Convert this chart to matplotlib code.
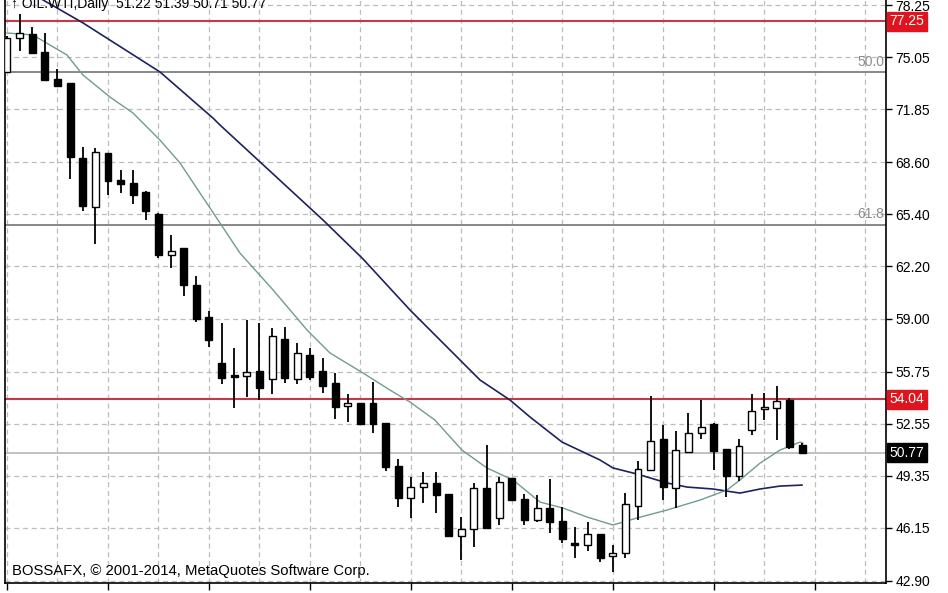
import matplotlib
matplotlib.use("Agg")
import matplotlib.pyplot as plt
import matplotlib.transforms as mtransforms
import numpy as np

plt.rcParams["font.family"] = ["Liberation Sans", "DejaVu Sans"]

# daily candles, oldest first
opens = [74.14, 76.22, 76.47, 75.37, 73.71, 73.46, 68.86, 65.85, 69.16, 67.51,
         67.32, 66.77, 65.42, 62.90, 63.33, 61.06, 59.10, 56.27, 55.54, 55.47,
         55.78, 55.29, 57.75, 55.29, 56.76, 55.78, 55.05, 53.63, 53.82, 53.82,
         52.59, 49.95, 47.99, 48.66, 48.91, 48.23, 45.65, 46.08, 48.60, 46.76,
         49.21, 47.92, 46.63, 47.37, 46.57, 45.22, 45.10, 45.77, 44.42, 44.61,
         47.49, 49.70, 51.61, 48.60, 50.81, 51.98, 52.53, 50.99, 49.34, 52.16,
         53.45, 53.51, 54.00, 51.22]
highs = [76.35, 77.70, 76.90, 76.53, 74.32, 73.46, 69.53, 69.47, 69.16, 68.12,
         68.12, 66.83, 65.48, 64.13, 63.33, 61.61, 59.47, 58.73, 57.19, 58.91,
         58.73, 58.42, 58.48, 57.50, 57.19, 56.58, 55.66, 54.37, 53.82, 55.11,
         52.59, 50.38, 49.27, 49.58, 49.58, 48.23, 46.82, 48.91, 51.24, 49.27,
         49.21, 48.23, 48.17, 49.15, 47.43, 46.20, 46.51, 45.77, 45.10, 48.29,
         50.26, 54.25, 52.47, 52.10, 53.20, 54.00, 52.59, 50.99, 51.61, 54.37,
         54.43, 54.86, 54.12, 51.39]
lows = [74.14, 75.43, 75.30, 73.58, 73.28, 67.57, 65.60, 63.58, 66.59, 66.71,
        66.03, 65.05, 62.72, 62.10, 60.39, 58.79, 57.25, 54.98, 53.51, 54.19,
        54.00, 54.37, 55.05, 54.98, 55.23, 54.43, 52.83, 52.65, 52.53, 51.98,
        49.64, 47.43, 46.76, 47.68, 47.06, 45.65, 44.18, 44.98, 46.08, 46.33,
        47.80, 46.33, 46.51, 45.84, 45.22, 44.30, 44.73, 44.06, 43.44, 44.30,
        46.63, 49.64, 47.86, 47.37, 50.75, 51.61, 49.70, 48.05, 49.03, 51.85,
        52.77, 51.55, 50.99, 50.71]
closes = [76.22, 76.53, 75.30, 73.65, 73.28, 68.92, 65.91, 69.23, 67.45, 67.26,
          66.59, 65.60, 62.90, 63.15, 61.06, 58.97, 57.68, 55.35, 55.41, 55.72,
          54.74, 57.93, 55.35, 56.89, 55.41, 54.86, 53.57, 53.82, 52.53, 52.53,
          49.89, 47.99, 48.66, 48.91, 48.17, 45.65, 46.08, 48.60, 46.14, 48.97,
          47.86, 46.63, 47.37, 46.51, 45.47, 45.10, 45.77, 44.30, 44.61, 47.62,
          49.77, 51.48, 48.66, 50.93, 51.98, 52.34, 50.87, 49.34, 51.18, 53.33,
          53.57, 53.94, 51.12, 50.77]

# slow moving average (dark blue), sampled along the curve
slow_x = [0.0, 2.85, 6.02, 12.12, 16.32, 16.88, 25.04, 28.21, 31.93, 37.48,
          39.86, 41.44, 43.98, 46.99, 48.02, 49.92, 52.30, 53.88, 55.94, 58.08,
          59.67, 61.25, 62.99]
slow_ma = [79.85, 78.56, 77.15, 74.14, 71.31, 70.88, 65.05, 62.66, 59.53, 55.23,
           54.00, 52.96, 51.42, 50.32, 49.83, 49.46, 48.91, 48.66, 48.54, 48.29,
           48.54, 48.72, 48.78]

# fast moving average (grey-green)
fast_x = [0.0, 2.06, 3.41, 4.75, 6.02, 8.16, 9.98, 12.12, 13.71, 15.29,
          16.72, 18.46, 21.08, 23.77, 25.59, 28.21, 30.35, 31.93, 33.91, 36.05,
          38.03, 40.10, 42.23, 44.06, 45.96, 48.02, 49.92, 52.30, 54.91, 57.05,
          58.08, 59.67, 61.25, 62.84, 63.07]
fast_ma = [76.53, 76.41, 75.79, 75.18, 73.95, 72.60, 71.62, 69.96, 68.55, 66.71,
           65.05, 63.02, 60.76, 58.30, 56.89, 55.66, 54.61, 53.88, 52.77, 50.93,
           49.83, 49.09, 47.74, 47.37, 46.82, 46.33, 46.76, 47.25, 47.86, 48.48,
           49.09, 50.13, 50.93, 51.42, 51.36]

price_ticks = [78.25, 75.05, 71.85, 68.60, 65.40, 62.20, 59.00, 55.75,
               52.55, 49.35, 46.15, 42.90]
red_levels = [77.25, 54.04]
fib_levels = [74.12, 64.76]
fib_labels = ["50.0", "61.8"]
last_price = 50.77

fig = plt.figure(figsize=(9.48, 5.93), dpi=100)
ax = fig.add_axes([5 / 948, 10 / 593, 881 / 948, 583 / 593])
ax.set_xlim(-0.16, 69.65)
ax.set_ylim(42.77, 78.557)

# grid
grid_style = dict(color="#bdbdbd", linewidth=0.9, linestyle=(0, (4, 3)))
ax.set_xticks(np.arange(0, 70, 8))
ax.set_xticks(np.arange(4, 70, 8), minor=True)
ax.set_yticks(price_ticks)
ax.grid(True, which="both", **grid_style)
ax.set_axisbelow(True)

# horizontal levels
for lvl in fib_levels:
    ax.axhline(lvl, color="#7f7f7f", linewidth=1.3, zorder=1)
ax.axhline(last_price, color="#b5b5b5", linewidth=1.2, zorder=1)
for lvl in red_levels:
    ax.axhline(lvl, color="#c23a4a", linewidth=1.5, zorder=1)

for lvl, lab in zip(fib_levels, fib_labels):
    ax.text(69.5, lvl + 0.22, lab, ha="right", va="bottom", fontsize=10,
            color="#8c8c8c")

# moving averages
ax.plot(slow_x, slow_ma, color="#1e2260", linewidth=1.2, zorder=2)
ax.plot(fast_x, fast_ma, color="#6f9c92", linewidth=1.0, zorder=2)

# candles
idx = np.arange(len(opens))
o = np.array(opens)
c = np.array(closes)
ax.vlines(idx, lows, highs, color="black", linewidth=1.3, zorder=3)
body_lo = np.minimum(o, c)
body_h = np.maximum(np.abs(c - o), 0.08)
face = ["white" if cc > oo else "black" for oo, cc in zip(o, c)]
ax.bar(idx, body_h, bottom=body_lo, width=0.55, color=face,
       edgecolor="black", linewidth=1.0, zorder=4)

# axes look
ax.spines["top"].set_visible(False)
for side in ["left", "right", "bottom"]:
    ax.spines[side].set_color("black")
    ax.spines[side].set_linewidth(1.2)
ax.yaxis.tick_right()
ax.tick_params(axis="y", which="major", length=4, width=1, pad=3,
               labelsize=10, colors="black")
ax.tick_params(axis="x", which="major", length=5, width=1, labelbottom=False)
ax.tick_params(axis="x", which="minor", length=0)

# price boxes on the scale
trans = mtransforms.blended_transform_factory(ax.transAxes, ax.transData)
for lvl in red_levels:
    ax.text(1.004, lvl, f"{lvl:.2f}", transform=trans, ha="left", va="center",
            fontsize=10, color="white", clip_on=False, zorder=6,
            bbox=dict(boxstyle="square,pad=0.18", facecolor="#e0141e",
                      edgecolor="#e0141e"))
ax.text(1.004, last_price, f"{last_price:.2f}", transform=trans, ha="left",
        va="center", fontsize=10, color="white", clip_on=False, zorder=6,
        bbox=dict(boxstyle="square,pad=0.18", facecolor="black",
                  edgecolor="black"))

ax.text(0.008, 0.008, "BOSSAFX, \u00a9 2001-2014, MetaQuotes Software Corp.",
        transform=ax.transAxes, ha="left", va="bottom", fontsize=10.7,
        color="black", zorder=7)

# chart header, clipped by the top edge as in the terminal window
fig.text(0.012, 0.994, "\u2191 OIL.WTI,Daily  51.22 51.39 50.71 50.77",
         ha="left", va="center", fontsize=10, color="black")

fig.savefig("out.png", dpi=100)
